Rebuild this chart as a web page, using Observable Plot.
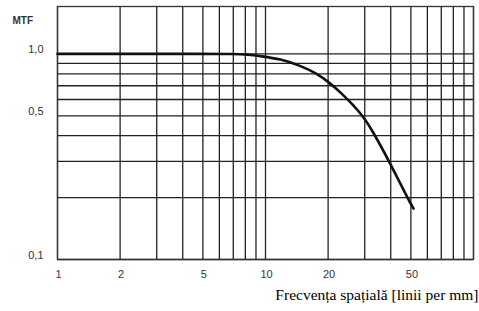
<!DOCTYPE html>
<html>
<head>
<meta charset="utf-8">
<script src="https://cdn.jsdelivr.net/npm/d3@7"></script>
<script src="https://cdn.jsdelivr.net/npm/@observablehq/plot@0.6"></script>
<style>
  html, body { margin: 0; padding: 0; background: #fff; }
  #chart svg { display: block; }
</style>
</head>
<body>
<div id="chart"></div>
<script>
// Spatial frequency (lines per mm) and MTF
const freq = [1, 2, 5, 7, 8.3, 9.46, 11.8, 14.7, 17.8, 20.1, 22.9, 26.5, 29.3, 32.7, 39.9, 48.7, 51.5];
const mtf  = [1.0, 1.0, 1.0, 1.0, 0.993, 0.975, 0.945, 0.877, 0.8, 0.729, 0.652, 0.561, 0.5, 0.423, 0.292, 0.195, 0.177];

const xGrid = [1, 2, 3, 4, 5, 6, 7, 8, 9, 10, 20, 30, 40, 50, 60, 70, 80, 90, 100];
const yGrid = [0.1, 0.2, 0.3, 0.4, 0.5, 0.6, 0.7, 0.8, 0.9, 1.0];
const xTicks = [1, 2, 5, 10, 20, 50];
const xTickLabels = ["1", "2", "5", "10", "20", "50"];
const yTicks = [1.0, 0.5, 0.1];
const yTickLabels = ["1,0", "0,5", "0,1"];
const yTitle = "MTF";
const xTitle = "Frecvența spațială [linii per mm]";

const curve = freq.map((f, i) => ({f, m: mtf[i]}));
const xt = xTicks.map((v, i) => ({v, t: xTickLabels[i]}));
const yt = yTicks.map((v, i) => ({v, t: yTickLabels[i]}));

const chart = Plot.plot({
  width: 479,
  height: 311,
  marginLeft: 57,
  marginRight: 6,
  marginTop: 6,
  marginBottom: 52,
  style: {background: "#fff", fontFamily: "'Liberation Sans', Arial, sans-serif"},
  x: {type: "log", domain: [1, 100], axis: null},
  y: {type: "log", domain: [0.1, 1.7], axis: null},
  marks: [
    Plot.ruleX(xGrid, {stroke: "#222", strokeWidth: 1.3}),
    Plot.ruleY(yGrid, {stroke: "#222", strokeWidth: 1.3}),
    Plot.frame({stroke: "#333", strokeWidth: 1.3}),
    Plot.line(curve, {x: "f", y: "m", stroke: "#111", strokeWidth: 2.6, curve: "basis"}),
    Plot.text(xt, {x: "v", text: "t", frameAnchor: "bottom", dy: 18, dx: 1, fontSize: 11, fill: "#333"}),
    Plot.text(yt, {y: "v", text: "t", frameAnchor: "left", textAnchor: "end", dx: -14, dy: -4, fontSize: 11, fill: "#333"}),
    Plot.text([yTitle], {frameAnchor: "top-left", textAnchor: "start", dx: -45, dy: 10, fontSize: 10, fontWeight: "bold", fill: "#333"}),
    Plot.text([xTitle], {frameAnchor: "bottom-right", textAnchor: "end", dx: 5, dy: 40, fontSize: 15.5,
      fontFamily: "'Liberation Serif', 'Times New Roman', serif", fill: "#000"})
  ]
});
document.getElementById("chart").appendChild(chart);
</script>
</body>
</html>
